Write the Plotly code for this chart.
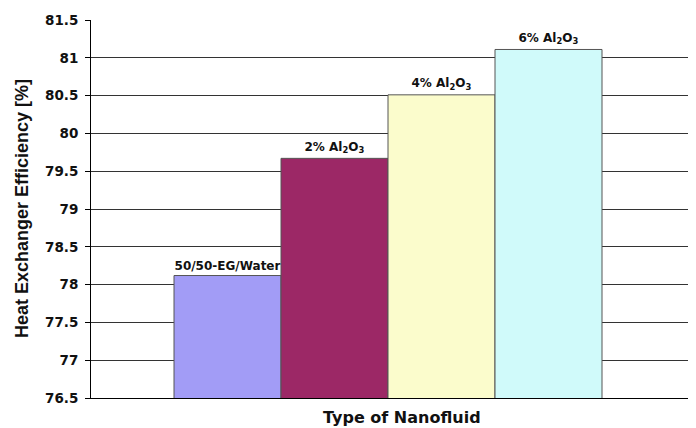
import plotly.graph_objects as go

categories = ["50/50-EG/Water", "2% Al<sub>2</sub>O<sub>3</sub>", "4% Al<sub>2</sub>O<sub>3</sub>", "6% Al<sub>2</sub>O<sub>3</sub>"]
values = [78.12, 79.67, 80.51, 81.11]
colors = ["#a29cf6", "#9c2866", "#fbfccc", "#d0fafa"]
group_label = ["Type of Nanofluid"]
y_ticks = [76.5, 77, 77.5, 78, 78.5, 79, 79.5, 80, 80.5, 81, 81.5]

fig = go.Figure()
for name, v, c in zip(categories, values, colors):
    fig.add_trace(go.Bar(
        x=group_label, y=[v], name=name,
        marker=dict(color=c, line=dict(color="#555555", width=1)),
        text=[name], textposition="outside", cliponaxis=False,
        textfont=dict(family="DejaVu Sans", size=12, color="#111111", weight="bold"),
    ))

# page body has an 8px margin, so the figure is sized/placed to compensate
fig.update_layout(
    width=688, height=420,
    margin=dict(l=83, r=0, t=12, b=30),
    paper_bgcolor="white", plot_bgcolor="white",
    barmode="group", bargap=0.2795, bargroupgap=0,
    showlegend=False,
    xaxis=dict(range=[-0.5, 0.5185], showticklabels=False, showgrid=False,
               showline=True, linecolor="black", linewidth=1, ticks=""),
    yaxis=dict(range=[76.5, 81.5], tickvals=y_ticks,
               ticktext=[f"{t:g}" for t in y_ticks],
               showgrid=True, gridcolor="#333333", gridwidth=1,
               showline=True, linecolor="black", linewidth=1,
               ticks="outside", ticklen=5, tickcolor="black",
               ticklabelstandoff=4,
               tickfont=dict(family="DejaVu Sans", size=13.5, color="#111111", weight="bold"),
               zeroline=False),
    annotations=[
        dict(text="Type of Nanofluid", xref="paper", yref="paper",
             x=(402 - 91) / 605, y=0, yshift=-19, xanchor="center", yanchor="middle",
             showarrow=False,
             font=dict(family="DejaVu Sans", size=16, color="#111111", weight="bold")),
        dict(text="Heat Exchanger Efficiency [%]", xref="paper", yref="paper",
             x=0, xshift=-69, y=0.5, xanchor="center", yanchor="middle",
             textangle=-90, showarrow=False,
             font=dict(family="Liberation Sans", size=18, color="#111111", weight="bold")),
    ],
)

fig.write_html("out.html")
